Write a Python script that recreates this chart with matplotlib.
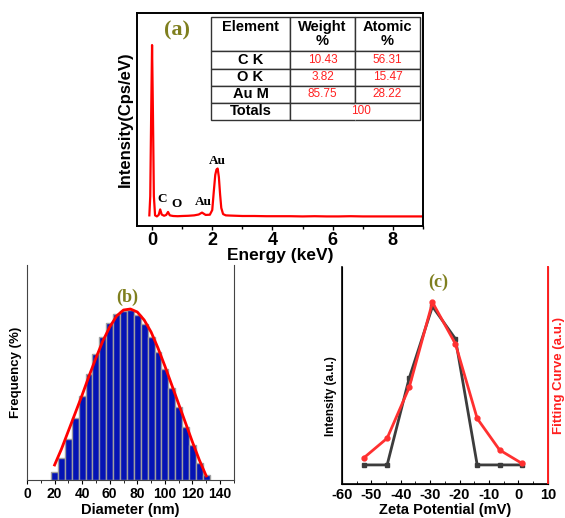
import matplotlib
matplotlib.use("Agg")
import matplotlib.pyplot as plt
from matplotlib.ticker import MultipleLocator

plt.rcParams['axes.unicode_minus'] = False
plt.rcParams['font.family'] = ['Liberation Sans', 'DejaVu Sans']

SERIF = ['Liberation Serif', 'DejaVu Serif']
OLIVE = '#7f7f1e'

                                                # (a) EDS spectrum
eds_energy = [-0.09, -0.06, -0.03, 0.00, 0.03, 0.06, 0.10, 0.16, 0.22, 0.27, 0.32, 0.40, 0.47,
              0.53, 0.59, 0.70, 0.85, 1.00, 1.20, 1.40, 1.55, 1.66, 1.78, 1.92, 2.00, 2.05,
              2.10, 2.14, 2.18, 2.22, 2.26, 2.30, 2.36, 2.45, 2.60, 2.80, 3.00, 3.40, 3.80,
              4.20, 4.60, 5.00, 5.40, 5.80, 6.20, 6.60, 7.00, 7.40, 7.80, 8.20, 8.60, 9.00]
eds_counts = [0.05, 0.14, 0.52, 0.85, 0.52, 0.14, 0.05, 0.045, 0.052, 0.078, 0.054, 0.048, 0.052,
              0.066, 0.050, 0.047, 0.046, 0.047, 0.048, 0.050, 0.054, 0.063, 0.052, 0.053, 0.075, 0.16,
              0.24, 0.265, 0.27, 0.23, 0.15, 0.085, 0.056, 0.05, 0.049, 0.048, 0.047, 0.047, 0.046,
              0.046, 0.046, 0.045, 0.046, 0.045, 0.045, 0.046, 0.045, 0.045, 0.045, 0.045, 0.045, 0.045]
peak_names = ["C", "O", "Au", "Au"]
peak_x = [0.32, 0.80, 1.70, 2.17]
peak_y = [0.125, 0.103, 0.113, 0.307]

table_cols = ["Element\n ", "Weight\n%", "Atomic\n%"]
elements = ["C K", "O K", "Au M", "Totals"]
weight_pct = ["10.43", "3.82", "85.75", ""]
atomic_pct = ["56.31", "15.47", "28.22", ""]
total_pct = "100"

                                                # (b) particle size histogram
diameter = [20, 25, 30, 35, 40, 45, 50, 55, 60, 65, 70, 75, 80, 85, 90, 95, 100, 105, 110,
            115, 120, 125, 130]
frequency = [0.42, 1.12, 2.04, 3.09, 4.20, 5.29, 6.29, 7.17, 7.84, 8.29, 8.45, 8.50, 8.25,
             7.80, 7.17, 6.42, 5.55, 4.62, 3.64, 2.67, 1.75, 0.87, 0.25]
fit_freq = [0.75, 1.55, 2.45, 3.35, 4.25, 5.20, 6.10, 6.95, 7.65, 8.20, 8.50, 8.55, 8.40,
            8.00, 7.40, 6.60, 5.70, 4.75, 3.80, 2.85, 1.90, 1.00, 0.20]

                                                # (c) zeta potential
zeta = [-52.4, -44.6, -37.1, -29.2, -21.4, -14.0, -6.4, 1.2]
zeta_int = [0.088, 0.088, 0.488, 0.818, 0.669, 0.088, 0.088, 0.088]
zeta_fit = [0.122, 0.211, 0.445, 0.837, 0.646, 0.302, 0.157, 0.095]


fig = plt.figure(figsize=(5.65, 5.18), dpi=100)

#----------------------------------------- panel (a) -------------------------------------------------
ax_a = fig.add_axes([0.2425, 0.5637, 0.506, 0.411])
ax_a.plot(eds_energy, eds_counts, color='#ff0000', lw=1.6)
ax_a.set_xlim(-0.5, 9)
ax_a.set_ylim(0, 1)
ax_a.set_yticks([])
ax_a.xaxis.set_major_locator(MultipleLocator(2))
ax_a.xaxis.set_minor_locator(MultipleLocator(1))
ax_a.tick_params(axis='x', which='major', direction='out', length=3, width=1, pad=1, labelsize=13)
ax_a.tick_params(axis='x', which='minor', direction='out', length=2, width=1)
for lab in ax_a.get_xticklabels():
    lab.set_fontweight('bold')
for sp in ax_a.spines.values():
    sp.set_linewidth(1.4)
ax_a.set_xlabel("Energy (keV)", fontsize=12.5, fontweight='bold')
ax_a.xaxis.set_label_coords(0.5, -0.105)
ax_a.set_ylabel("Intensity(Cps/eV)", fontsize=12, fontweight='bold')
ax_a.yaxis.set_label_coords(-0.014, 0.5)
for name, x, y in zip(peak_names, peak_x, peak_y):
    ax_a.text(x, y, name, family=SERIF, fontweight='bold', fontsize=9.5, ha='center', va='center')
ax_a.text(0.82, 0.92, "(a)", family=SERIF, fontweight='bold', fontsize=16, color=OLIVE,
          ha='center', va='center')

                                                    # element table
rows = [[e, w, a] for e, w, a in zip(elements, weight_pct, atomic_pct)]
col_w = [0.378, 0.311, 0.311]
tb_box = [0.259, 0.498, 0.731, 0.483]
tb = ax_a.table(cellText=rows, colLabels=table_cols, colWidths=col_w, cellLoc='center',
                bbox=tb_box)
tb.auto_set_font_size(False)
for (r, c), cell in tb.get_celld().items():
    cell.set_edgecolor('#333333')
    cell.set_linewidth(1)
    cell.set_facecolor('white')
    txt = cell.get_text()
    if r == 0 or c == 0:
        txt.set_fontsize(10.5)
        txt.set_fontweight('bold')
    else:
        txt.set_fontsize(8.5)
        txt.set_color('#ff2020')
    if r == 0:
        cell.set_height(cell.get_height() * 2)
        txt.set_linespacing(1.0)
tb[len(rows), 1].visible_edges = 'BTL'
tb[len(rows), 2].visible_edges = 'BTR'
merge_x = tb_box[0] + tb_box[2] * (col_w[0] + (col_w[1] + col_w[2]) / 2) + 0.02
merge_y = tb_box[1] + tb_box[3] * (1 / 12)
ax_a.text(merge_x, merge_y, total_pct, transform=ax_a.transAxes, fontsize=8.5,
          color='#ff2020', ha='center', va='center', zorder=10)

#----------------------------------------- panel (b) -------------------------------------------------
ax_b = fig.add_axes([0.0478, 0.0734, 0.366, 0.415])
ax_b.bar(diameter, frequency, width=5, color='#0514b4', edgecolor='#a0a0a0', lw=1)
ax_b.plot(diameter, fit_freq, color='#ff0000', lw=2)
ax_b.set_xlim(0, 150)
ax_b.set_ylim(0, 10.75)
ax_b.set_yticks([])
ax_b.set_xticks([0, 20, 40, 60, 80, 100, 120, 140])
ax_b.xaxis.set_minor_locator(MultipleLocator(10))
ax_b.tick_params(axis='x', which='major', direction='out', length=3, pad=2, labelsize=10)
ax_b.tick_params(axis='x', which='minor', direction='out', length=2)
for lab in ax_b.get_xticklabels():
    lab.set_fontweight('bold')
ax_b.spines['top'].set_visible(False)
for sp in ['left', 'bottom', 'right']:
    ax_b.spines[sp].set_color('#444444')
ax_b.set_xlabel("Diameter (nm)", fontsize=10.5, fontweight='bold')
ax_b.xaxis.set_label_coords(0.5, -0.105)
ax_b.set_ylabel("Frequency (%)", fontsize=9.5, fontweight='bold')
ax_b.yaxis.set_label_coords(-0.024, 0.5)
ax_b.text(73, 9.15, "(b)", family=SERIF, fontweight='bold', fontsize=13, color=OLIVE,
          ha='center', va='center')

#----------------------------------------- panel (c) -------------------------------------------------
ax_c = fig.add_axes([0.605, 0.0656, 0.3646, 0.419])
ax_c.plot(zeta, zeta_int, color='#3c3c3c', lw=2, marker='s', ms=3)
ax_c2 = ax_c.twinx()
ax_c2.plot(zeta, zeta_fit, color='#ff3030', lw=2, marker='o', ms=3.5)
ax_c.set_xlim(-60, 10)
ax_c.set_ylim(0, 1)
ax_c2.set_ylim(0, 1)
ax_c.set_yticks([])
ax_c2.set_yticks([])
ax_c.xaxis.set_major_locator(MultipleLocator(10))
ax_c.xaxis.set_minor_locator(MultipleLocator(5))
ax_c.tick_params(axis='x', which='major', direction='in', length=3, pad=3, labelsize=10.5)
ax_c.tick_params(axis='x', which='minor', direction='in', length=2)
for lab in ax_c.get_xticklabels():
    lab.set_fontweight('bold')
for a in (ax_c, ax_c2):
    a.spines['top'].set_visible(False)
ax_c2.spines['right'].set_color('#ff2020')
ax_c2.spines['right'].set_linewidth(1.4)
ax_c.spines['left'].set_linewidth(1.2)
ax_c.spines['bottom'].set_linewidth(1.2)
ax_c.set_xlabel("Zeta Potential (mV)", fontsize=10.5, fontweight='bold')
ax_c.xaxis.set_label_coords(0.5, -0.088)
ax_c.set_ylabel("Intensity (a.u.)", fontsize=8.5, fontweight='bold')
ax_c.yaxis.set_label_coords(-0.024, 0.405)
ax_c2.set_ylabel("Fitting Curve (a.u.)", fontsize=9.5, fontweight='bold', color='#ff2020')
ax_c2.yaxis.set_label_coords(1.024, 0.5)
ax_c.text(-27.2, 0.93, "(c)", family=SERIF, fontweight='bold', fontsize=13, color=OLIVE,
          ha='center', va='center')

fig.savefig("out.png", dpi=100)
